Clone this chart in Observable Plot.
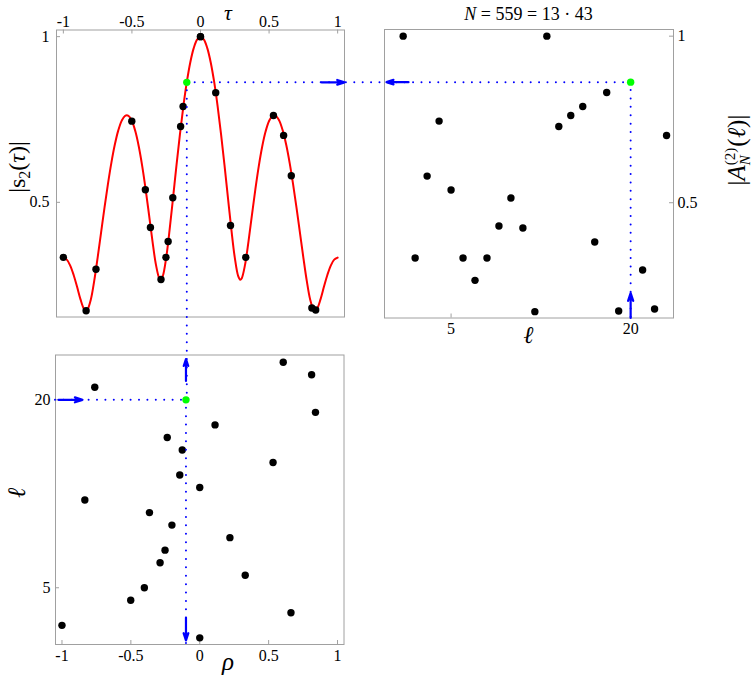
<!DOCTYPE html>
<html>
<head>
<meta charset="utf-8">
<script src="https://cdn.jsdelivr.net/npm/d3@7"></script>
<script src="https://cdn.jsdelivr.net/npm/@observablehq/plot@0.6"></script>
<style>
  body { margin: 0; background: #fff; }
  #chart { position: relative; width: 756px; height: 679px; overflow: hidden; background: #fff; }
  #chart svg { position: absolute; left: 0; top: 0; }
  #chart svg, #chart svg text, #chart svg tspan { font-family: "Liberation Serif", "Times New Roman", serif !important; }
</style>
</head>
<body>
<div id="chart"></div>
<script>
// ---------------- data ----------------
// red curve |s2(tau)| sampled along tau
const tauSamples = [-1, -0.975, -0.95, -0.925, -0.9, -0.875, -0.85, -0.835, -0.825, -0.8, -0.775, -0.75, -0.725, -0.7, -0.675, -0.65, -0.625, -0.6, -0.575, -0.55, -0.525, -0.5, -0.475, -0.45, -0.425, -0.4, -0.375, -0.35, -0.325, -0.3, -0.29, -0.275, -0.25, -0.225, -0.2, -0.175, -0.15, -0.125, -0.1, -0.075, -0.05, -0.025,
  0,
  0.025, 0.05, 0.075, 0.1, 0.125, 0.15, 0.175, 0.2, 0.225, 0.25, 0.275, 0.29, 0.3, 0.325, 0.35, 0.375, 0.4, 0.425, 0.45, 0.475, 0.5, 0.525, 0.55, 0.575, 0.6, 0.625, 0.65, 0.675, 0.7, 0.725, 0.75, 0.775, 0.8, 0.825, 0.835, 0.85, 0.875, 0.9, 0.925, 0.95, 0.975, 1];
const s2Samples = [0.3333, 0.3272, 0.3092, 0.2809, 0.2450, 0.2073, 0.1786, 0.1725, 0.1752, 0.2060, 0.2629, 0.3333, 0.4088, 0.4840, 0.5551, 0.6191, 0.6735, 0.7163, 0.7459, 0.7611, 0.7610, 0.7454, 0.7143, 0.6686, 0.6095, 0.5393, 0.4616, 0.3822, 0.3119, 0.2699, 0.2662, 0.2772, 0.3333, 0.4181, 0.5145, 0.6122, 0.7053, 0.7897, 0.8625, 0.9214, 0.9647, 0.9911,
  1,
  0.9911, 0.9647, 0.9214, 0.8625, 0.7897, 0.7053, 0.6122, 0.5145, 0.4181, 0.3333, 0.2772, 0.2662, 0.2699, 0.3119, 0.3822, 0.4616, 0.5393, 0.6095, 0.6686, 0.7143, 0.7454, 0.7610, 0.7611, 0.7459, 0.7163, 0.6735, 0.6191, 0.5551, 0.4840, 0.4088, 0.3333, 0.2629, 0.2060, 0.1752, 0.1725, 0.1786, 0.2073, 0.2450, 0.2809, 0.3092, 0.3272, 0.3333];

// one point per ell: its rho and |A_N^(2)(ell)|
const ells = [1, 2, 3, 4, 5, 6, 7, 8, 9, 10, 11, 12, 13, 14, 15, 16, 17, 18, 19, 20, 21, 22, 23];
const rhos = [0, -1, 0.662, -0.501, -0.402, 0.330, -0.288, -0.252, 0.219, -0.202, -0.365, -0.834, 0, -0.145, 0.532, -0.127, -0.236, 0.111, 0.840, -0.1, -0.762, 0.812, 0.606];
const amps = [1, 0.334, 0.580, 0.745, 0.538, 0.334, 0.267, 0.334, 0.430, 0.514, 0.424, 0.173, 1, 0.729, 0.762, 0.789, 0.382, 0.831, 0.175, 0.862, 0.298, 0.181, 0.702];
const highlightEll = 20;

// tick values
const tauTicks = [-1, -0.5, 0, 0.5, 1];
const ampTicks = [0.5, 1];
const ellTicksB = [5, 20];
const rhoTicks = [-1, -0.5, 0, 0.5, 1];
const ellTicksC = [5, 20];

// texts
const titleN = "N";
const titleRest = " = 559 = 13 · 43";

// ---------------- layout ----------------
const FONT = '"Liberation Serif", "Times New Roman", serif';
const W = 756, H = 679;
const GRAY = "#a0a0a0";
const BLUE = "#0000ff";
const GREEN = "#00ff00";
const boxA = {l: 56, r: 344, t: 29.5, b: 316.5};
const boxB = {l: 384, r: 673, t: 29, b: 317.5};
const boxC = {l: 55, r: 343.5, t: 354.5, b: 644};
const tauDomain = [-1.05, 1.05];
const ampDomain = [0.154, 1.02];
const ellDomainB = [-0.56, 23.58];
const rhoDomain = [-1.047, 1.047];
const ellDomainC = [0.47, 23.58];

const xA = d3.scaleLinear(tauDomain, [boxA.l, boxA.r]);
const yA = d3.scaleLinear(ampDomain, [boxA.b, boxA.t]);
const xB = d3.scaleLinear(ellDomainB, [boxB.l, boxB.r]);
const yB = d3.scaleLinear(ampDomain, [boxB.b, boxB.t]);
const xC = d3.scaleLinear(rhoDomain, [boxC.l, boxC.r]);
const yC = d3.scaleLinear(ellDomainC, [boxC.b, boxC.t]);

const curve = tauSamples.map((t, i) => ({tau: t, s: s2Samples[i]}));
const points = ells.map((l, i) => ({ell: l, rho: rhos[i], amp: amps[i]}));
const hi = points.find(d => d.ell === highlightEll);
const others = points.filter(d => d.ell !== highlightEll);

const fmt = d => String(d);
const dotted = {stroke: BLUE, strokeWidth: 2, strokeDasharray: "0 8.4", strokeLinecap: "round"};
const arrowStyle = {stroke: BLUE, strokeWidth: 2.2, headLength: 8, headAngle: 36};
const R = 3.7;

function panel(box, xDomain, yDomain, marks) {
  return Plot.plot({
    width: W, height: H,
    marginLeft: box.l, marginRight: W - box.r, marginTop: box.t, marginBottom: H - box.b,
    x: {domain: xDomain, axis: null},
    y: {domain: yDomain, axis: null},
    style: {background: "transparent", overflow: "visible", fontFamily: FONT, color: "black"},
    marks
  });
}

const wA = boxA.r - boxA.l, hA = boxA.b - boxA.t;
const wB = boxB.r - boxB.l, hB = boxB.b - boxB.t;
const wC = boxC.r - boxC.l, hC = boxC.b - boxC.t;

const plotA = panel(boxA, tauDomain, ampDomain, [
  Plot.frame({stroke: GRAY}),
  Plot.ruleX(tauTicks, {x: d => d, insetBottom: hA - 4, stroke: GRAY}),
  Plot.ruleY(ampTicks, {y: d => d, insetRight: wA - 4, stroke: GRAY}),
  Plot.axisX(tauTicks, {anchor: "top", tickSize: 0, tickPadding: 2.8, tickFormat: fmt, fontSize: 16, label: null}),
  Plot.axisY(ampTicks, {anchor: "left", tickSize: 0, tickPadding: 7, tickFormat: fmt, fontSize: 16, label: null}),
  Plot.line(curve, {x: "tau", y: "s", stroke: "#ff0000", strokeWidth: 2, curve: "catmull-rom"}),
  Plot.dot(others, {x: "rho", y: "amp", r: R, fill: "black"}),
  Plot.ruleY([hi], {y: "amp", x1: "rho", x2: () => xA.invert(xB(hi.ell)), ...dotted}),
  Plot.ruleX([hi], {x: "rho", y1: "amp", y2: () => yA.invert(yC(hi.ell)), ...dotted}),
  Plot.arrow([hi], {x1: () => xA.invert(boxA.r - 23), x2: () => tauDomain[1], y1: "amp", y2: "amp", ...arrowStyle}),
  Plot.dot([hi], {x: "rho", y: "amp", r: R, fill: GREEN})
]);

const plotB = panel(boxB, ellDomainB, ampDomain, [
  Plot.frame({stroke: GRAY}),
  Plot.ruleX(ellTicksB, {x: d => d, insetTop: hB - 4, stroke: GRAY}),
  Plot.ruleY(ampTicks, {y: d => d, insetLeft: wB - 4, stroke: GRAY}),
  Plot.axisX(ellTicksB, {anchor: "bottom", tickSize: 0, tickPadding: 4.8, tickFormat: fmt, fontSize: 16, label: null}),
  Plot.axisY(ampTicks, {anchor: "right", tickSize: 0, tickPadding: 4, tickFormat: fmt, fontSize: 16, label: null}),
  Plot.dot(others, {x: "ell", y: "amp", r: R, fill: "black"}),
  Plot.ruleX([hi], {x: "ell", y1: "amp", y2: () => ampDomain[0], ...dotted}),
  Plot.arrow([hi], {x1: () => xB.invert(boxB.l + 24), x2: () => xB.invert(boxB.l + 2), y1: "amp", y2: "amp", ...arrowStyle}),
  Plot.arrow([hi], {x1: "ell", x2: "ell", y1: () => ampDomain[0], y2: () => yB.invert(boxB.b - 25), ...arrowStyle}),
  Plot.dot([hi], {x: "ell", y: "amp", r: R, fill: GREEN})
]);

const plotC = panel(boxC, rhoDomain, ellDomainC, [
  Plot.frame({stroke: GRAY}),
  Plot.ruleX(rhoTicks, {x: d => d, insetTop: hC - 4, stroke: GRAY}),
  Plot.ruleY(ellTicksC, {y: d => d, insetRight: wC - 4, stroke: GRAY}),
  Plot.axisX(rhoTicks, {anchor: "bottom", tickSize: 0, tickPadding: 5.3, tickFormat: fmt, fontSize: 16, label: null}),
  Plot.axisY(ellTicksC, {anchor: "left", tickSize: 0, tickPadding: 5, tickFormat: fmt, fontSize: 16, label: null}),
  Plot.dot(others, {x: "rho", y: "ell", r: R, fill: "black"}),
  Plot.ruleY([hi], {y: "ell", x1: () => rhoDomain[0], x2: "rho", ...dotted}),
  Plot.ruleX([hi], {x: "rho", y1: "ell", y2: () => ellDomainC[0], ...dotted}),
  Plot.arrow([hi], {x1: "rho", x2: "rho", y1: () => yC.invert(boxC.t + 26), y2: () => yC.invert(boxC.t + 4), ...arrowStyle}),
  Plot.arrow([hi], {x1: "rho", x2: "rho", y1: () => yC.invert(boxC.b - 27), y2: () => yC.invert(boxC.b - 4), ...arrowStyle}),
  Plot.arrow([hi], {y1: "ell", y2: "ell", x1: () => xC.invert(boxC.l + 3), x2: () => xC.invert(boxC.l + 27), ...arrowStyle}),
  Plot.dot([hi], {x: "rho", y: "ell", r: R, fill: GREEN})
]);

const chart = document.getElementById("chart");
chart.append(plotA, plotB, plotC);

// ---------------- titles / axis labels ----------------
function label(svg, x, y, parts, size, rotate = 0) {
  const t = d3.select(svg).append("text")
    .attr("transform", `translate(${x},${y})` + (rotate ? ` rotate(${rotate})` : ""))
    .attr("text-anchor", "middle")
    .style("font-family", FONT)
    .attr("font-size", size)
    .attr("fill", "black");
  const spans = [];
  for (const p of parts) {
    const s = t.append("tspan").text(p.t);
    if (p.i) s.attr("font-style", "italic");
    if (p.size) s.attr("font-size", p.size);
    if (p.dy) s.attr("dy", p.dy);
    if (p.dx) s.attr("dx", p.dx);
    spans.push(s);
  }
  return {t, spans};
}

// top-left
label(plotA, 228, 20, [{t: "τ", i: true}], 22);
label(plotA, 25, 167, [{t: "|"}, {t: "s"}, {t: "2", size: 16, dy: 5}, {t: "(", dy: -5}, {t: "τ", i: true}, {t: ")"}, {t: "|"}], 24, -90);

// top-right
label(plotB, (boxB.l + boxB.r) / 2, 20, [{t: titleN, i: true}, {t: titleRest}], 18);
label(plotB, (boxB.l + boxB.r) / 2, 343, [{t: "ℓ", i: true}], 24);
{
  const {spans} = label(plotB, 745, 150, [
    {t: "|"}, {t: "A", i: true},
    {t: "(2)", size: 15, dy: -10},
    {t: "N", i: true, size: 15, dy: 15},
    {t: "(", dy: -5}, {t: "ℓ", i: true}, {t: ")"}, {t: "|"}
  ], 25, -90);
  const wSup = spans[2].node().getComputedTextLength();
  const wSub = spans[3].node().getComputedTextLength();
  spans[3].attr("dx", -wSup);
  spans[4].attr("dx", Math.max(0, wSup - wSub) + 1);
}

// bottom-left
label(plotC, 228, 670, [{t: "ρ", i: true}], 25);
label(plotC, 25, 493, [{t: "ℓ", i: true}], 25, -90);
</script>
</body>
</html>
